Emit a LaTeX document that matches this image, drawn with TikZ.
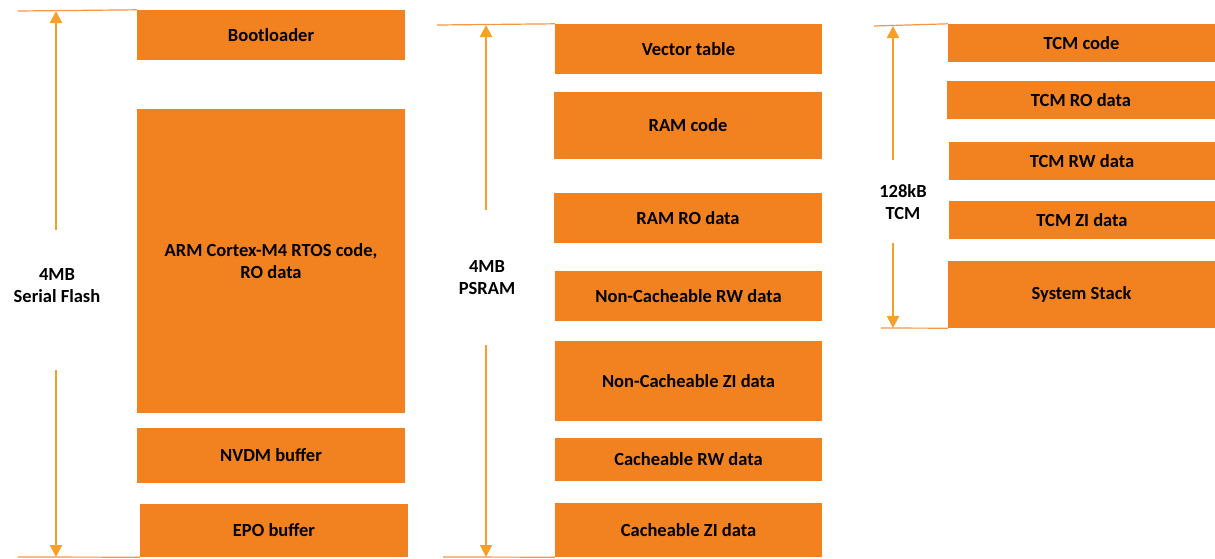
\documentclass[tikz,border=0pt]{standalone}
\usepackage{fontspec}
\setmainfont{Carlito}
\usetikzlibrary{arrows.meta}
\definecolor{boxorange}{RGB}{242,130,32}
\definecolor{arroworange}{RGB}{246,160,40}
\definecolor{lineorange}{RGB}{244,150,70}
\begin{document}
\begin{tikzpicture}[x=1pt, y=-1pt,
    region/.style={rectangle, fill=boxorange, inner sep=0pt, align=center,
        font=\fontsize{18.5}{22}\selectfont\bfseries},
    memlabel/.style={align=center, font=\fontsize{18.5}{22}\selectfont\bfseries},
    guide/.style={draw=lineorange, line width=1.2pt},
    sizearrow/.style={draw=arroworange, line width=2pt, -{Triangle[width=12pt,length=12pt]}}]
    \useasboundingbox (0,0) rectangle (1215,558);

    % serial flash
    \node[region, minimum width=268pt, minimum height=50pt] (boot) at (271,35) {Bootloader};
    \node[region, minimum width=268pt, minimum height=304pt] (rtos) at (271,261) {ARM Cortex-M4 RTOS code,\\RO data};
    \node[region, minimum width=268pt, minimum height=55pt] (nvdm) at (271,455.5) {NVDM buffer};
    \node[region, minimum width=268pt, minimum height=53pt] (epo) at (274,530.5) {EPO buffer};
    \node[memlabel] (flash) at (57,286) {4MB\\Serial Flash};
    \coordinate (flash-top) at (18,11);
    \coordinate (flash-bot) at (18,557);
    \coordinate (flash-hi) at (56,11);
    \coordinate (flash-lo) at (56,557);
    \coordinate (flash-up) at (56,230);
    \coordinate (flash-down) at (56,370);
    \draw[guide] (flash-top) -- (boot.north west);
    \draw[guide] (flash-bot) -- (epo.south west);
    \draw[sizearrow] (flash-up) -- (flash-hi);
    \draw[sizearrow] (flash-down) -- (flash-lo);

    % psram
    \node[region, minimum width=267pt, minimum height=50pt] (vectab) at (688.5,49) {Vector table};
    \node[region, minimum width=268pt, minimum height=67pt] (ramcode) at (688,125.5) {RAM code};
    \node[region, minimum width=268pt, minimum height=50pt] (ramro) at (688,218) {RAM RO data};
    \node[region, minimum width=267pt, minimum height=50pt] (ncrw) at (688.5,296) {Non-Cacheable RW data};
    \node[region, minimum width=267pt, minimum height=80pt] (nczi) at (688.5,381) {Non-Cacheable ZI data};
    \node[region, minimum width=267pt, minimum height=43pt] (crw) at (688.5,459.5) {Cacheable RW data};
    \node[region, minimum width=267pt, minimum height=54pt] (czi) at (688.5,530) {Cacheable ZI data};
    \node[memlabel] (psram) at (487,278) {4MB\\PSRAM};
    \coordinate (psram-top) at (437,25);
    \coordinate (psram-bot) at (443,557);
    \coordinate (psram-hi) at (486,25);
    \coordinate (psram-lo) at (486,557);
    \coordinate (psram-up) at (486,210);
    \coordinate (psram-down) at (486,345);
    \draw[guide] (psram-top) -- (vectab.north west);
    \draw[guide] (psram-bot) -- (czi.south west);
    \draw[sizearrow] (psram-up) -- (psram-hi);
    \draw[sizearrow] (psram-down) -- (psram-lo);

    % tcm
    \node[region, minimum width=267pt, minimum height=38pt] (tcmcode) at (1081.5,43) {TCM code};
    \node[region, minimum width=268pt, minimum height=38pt] (tcmro) at (1081,100) {TCM RO data};
    \node[region, minimum width=266pt, minimum height=38pt] (tcmrw) at (1082,161) {TCM RW data};
    \node[region, minimum width=266pt, minimum height=38pt] (tcmzi) at (1082,220) {TCM ZI data};
    \node[region, minimum width=267pt, minimum height=67pt] (stack) at (1081.5,294.5) {System Stack};
    \node[memlabel] (tcm) at (903,202) {128kB\\TCM};
    \coordinate (tcm-top) at (874,26);
    \coordinate (tcm-bot) at (881,328);
    \coordinate (tcm-hi) at (893,26);
    \coordinate (tcm-lo) at (893,328);
    \coordinate (tcm-up) at (893,160);
    \coordinate (tcm-down) at (893,243);
    \draw[guide] (tcm-top) -- (tcmcode.north west);
    \draw[guide] (tcm-bot) -- (stack.south west);
    \draw[sizearrow] (tcm-up) -- (tcm-hi);
    \draw[sizearrow] (tcm-down) -- (tcm-lo);
\end{tikzpicture}
\end{document}
